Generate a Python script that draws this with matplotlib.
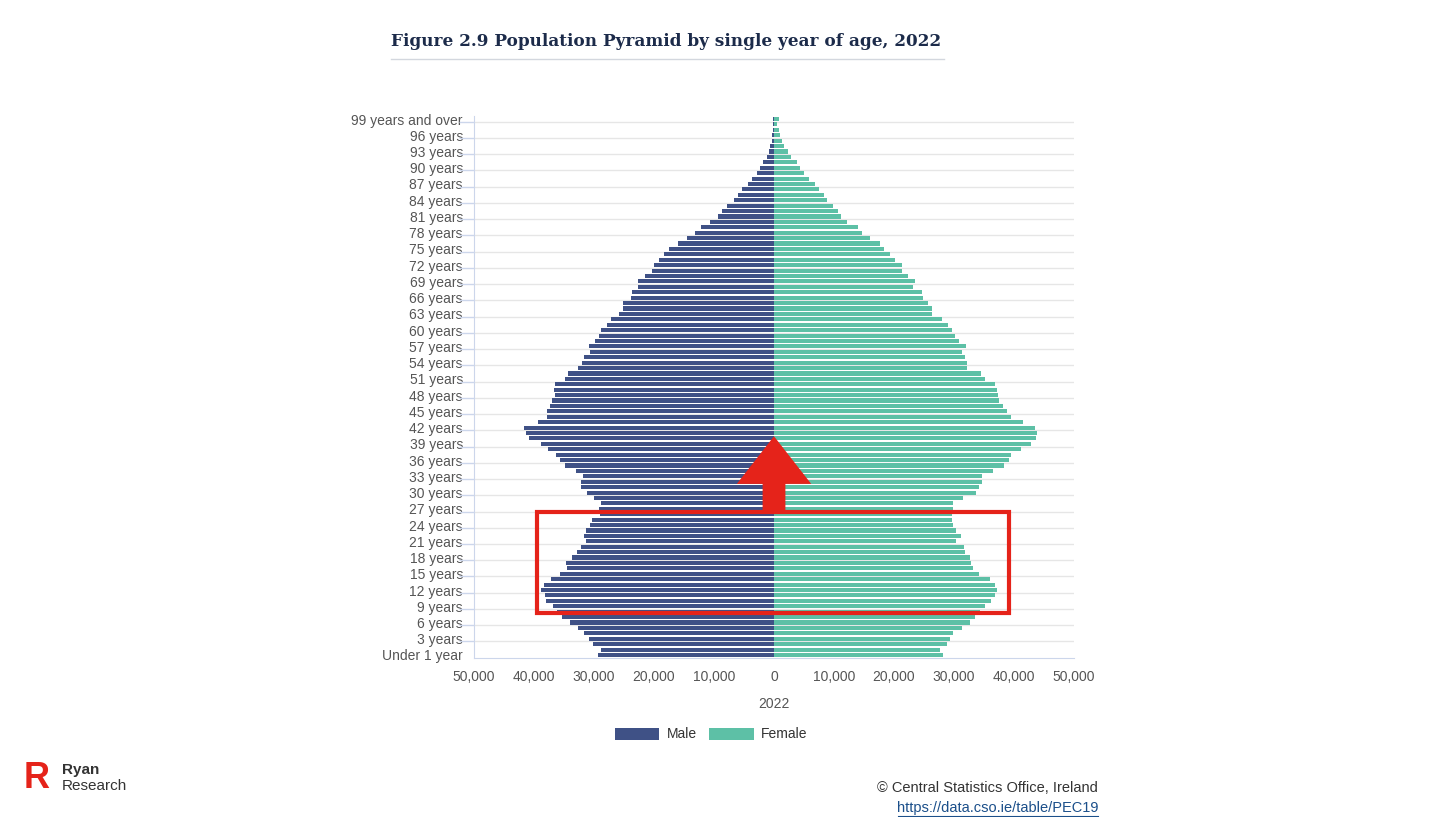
"""
population pyramid by single year of age, 2022
"""

import matplotlib.pyplot as plt
from matplotlib.lines import Line2D
from matplotlib.patches import Polygon, Rectangle
import numpy as np

# ages 0 .. 99+ (bottom to top)
ages = ["Under 1 year", "1 year"] + [f"{a} years" for a in range(2, 99)] + ["99 years and over"]

male = [29400, 28900, 30100, 30900, 31600, 32600, 34000, 35300, 36200, 36900,
        38000, 38200, 38800, 38300, 37200, 35700, 34500, 34700, 33700, 32900,
        32200, 31300, 31700, 31300, 30600, 30300, 29000, 29200, 28900, 30000,
        31100, 32200, 32200, 31900, 33000, 34900, 35700, 36400, 37600, 38800,
        40800, 41300, 41700, 39300, 37900, 37900, 37300, 37000, 36500, 36700,
        36500, 34900, 34400, 32600, 32000, 31600, 30700, 30900, 29800, 29200,
        28900, 27800, 27200, 25900, 25100, 25100, 23800, 23600, 22600, 22600,
        21500, 20400, 20000, 19100, 18400, 17500, 16000, 14500, 13200, 12100,
        10700, 9400, 8700, 7800, 6700, 6000, 5300, 4400, 3700, 2900,
        2300, 1800, 1200, 900, 650, 400, 320, 150, 130, 200]

female = [28100, 27600, 28900, 29400, 29900, 31300, 32600, 33500, 34400, 35100,
          36200, 36800, 37200, 36800, 36000, 34200, 33100, 32800, 32700, 31900,
          31700, 30400, 31100, 30400, 29800, 29700, 29600, 29800, 29900, 31500,
          33700, 34200, 34600, 34700, 36500, 38300, 39200, 39500, 41200, 42800,
          43700, 43900, 43500, 41500, 39500, 38800, 38200, 37500, 37300, 37200,
          36800, 35100, 34500, 32200, 32200, 31800, 31300, 32000, 30800, 30100,
          29700, 29000, 28000, 26400, 26300, 25600, 24800, 24600, 23200, 23500,
          22300, 21300, 21300, 20200, 19300, 18400, 17700, 16000, 14700, 14000,
          12200, 11200, 10700, 9900, 8900, 8300, 7500, 6800, 5900, 5000,
          4300, 3800, 2800, 2300, 1700, 1400, 1000, 800, 450, 900]

x_ticks = [-50000, -40000, -30000, -20000, -10000, 0, 10000, 20000, 30000, 40000, 50000]

# red highlight overlay (data coords)
box_x = (-39500, 39200)
box_y = (7.75, 26.4)
arrow_tip = 40.4
arrow_head_base = 31.6
arrow_head_half = 6200
arrow_shaft_half = 1900

MALE_COL = "#3f5186"
FEMALE_COL = "#5dc0a6"
RED = "#e5231a"
GRID = "#e6e6e6"
AXIS = "#ccd6eb"
TXT = "#555555"

plt.rcParams['font.family'] = ['Liberation Sans', 'DejaVu Sans']

fig = plt.figure(figsize=(14.56, 8.17), dpi=100)
ax = fig.add_axes([474 / 1456, 1 - 657.7 / 817, 600 / 1456, (657.7 - 116.3) / 817])

y = np.arange(len(ages))
ax.barh(y, -np.array(male), height=0.76, color=MALE_COL, label="Male", zorder=3)
ax.barh(y, female, height=0.76, color=FEMALE_COL, label="Female", zorder=3)

ax.set_xlim(-50000, 50000)
ax.set_ylim(-0.5, 99.5)

ax.set_yticks(y[::3], labels=[ages[i] for i in y[::3]])
ax.set_yticks(np.arange(-0.5, 99, 3)[1:], minor=True)
ax.tick_params(axis='y', which='major', length=0, pad=8, labelsize=10, labelcolor=TXT)
ax.tick_params(axis='y', which='minor', length=11, color=AXIS, width=1)
ax.grid(axis='y', which='minor', color=GRID, linewidth=1, zorder=0)

ax.set_xticks(x_ticks, labels=[f"{abs(v):,}" for v in x_ticks])
ax.tick_params(axis='x', length=0, pad=9, labelsize=10, labelcolor=TXT)
ax.set_xlabel("2022", fontsize=10, color=TXT, labelpad=9.5)

for s in ["top", "right"]:
    ax.spines[s].set_visible(False)
ax.spines["left"].set_color(AXIS)
ax.spines["bottom"].set_color(AXIS)

# red box and arrow
ax.add_patch(Rectangle((box_x[0], box_y[0]), box_x[1] - box_x[0], box_y[1] - box_y[0],
                       fill=False, edgecolor=RED, linewidth=3, zorder=5))
arrow_pts = [(0, arrow_tip), (arrow_head_half, arrow_head_base), (arrow_shaft_half, arrow_head_base),
             (arrow_shaft_half, box_y[1]), (-arrow_shaft_half, box_y[1]),
             (-arrow_shaft_half, arrow_head_base), (-arrow_head_half, arrow_head_base)]
ax.add_patch(Polygon(arrow_pts, closed=True, facecolor=RED, edgecolor="none", zorder=5))

fig.legend(loc="center", bbox_to_anchor=(711 / 1456, 1 - 734.5 / 817), ncol=2, frameon=False,
           fontsize=10, handlelength=3.2, handleheight=0.95, handletextpad=0.5,
           columnspacing=0.9, labelcolor="#333333")

# title
fig.text(391 / 1456, 1 - 41 / 817, "Figure 2.9 Population Pyramid by single year of age, 2022",
         fontsize=12.2, fontweight="bold", family="DejaVu Serif", color="#1c2b4a",
         ha="left", va="center")
fig.add_artist(Line2D([391 / 1456, 944 / 1456], [1 - 58.5 / 817] * 2, color="#d3d7de", linewidth=1))

# footer
fig.text(1098 / 1456, 1 - 788 / 817, "© Central Statistics Office, Ireland", fontsize=10.5,
         color="#333333", ha="right", va="center")
fig.text(1098 / 1456, 1 - 808 / 817, "https://data.cso.ie/table/PEC19", fontsize=10.5,
         color="#1b4f8a", ha="right", va="center")
fig.add_artist(Line2D([898 / 1456, 1098 / 1456], [1 - 815.5 / 817] * 2, color="#1b4f8a", linewidth=0.8))

# logo
fig.text(37 / 1456, 1 - 778 / 817, "R", fontsize=26, fontweight="bold", color="#e5231a",
         ha="center", va="center")
fig.text(62 / 1456, 1 - 770 / 817, "Ryan", fontsize=11, fontweight="bold", color="#333333",
         ha="left", va="center")
fig.text(62 / 1456, 1 - 786 / 817, "Research", fontsize=11, color="#333333",
         ha="left", va="center")

fig.savefig("out.png", dpi=100)
